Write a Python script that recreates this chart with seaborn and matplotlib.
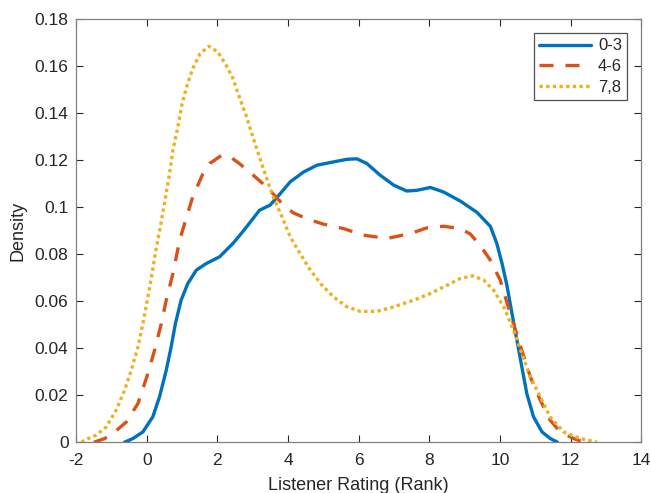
import matplotlib
matplotlib.use("Agg")
import matplotlib.pyplot as plt
import seaborn as sns

# density curves
x_03 = [-0.63, -0.39, -0.11, 0.17, 0.36, 0.55, 0.69, 0.81, 0.97, 1.16, 1.40, 1.68, 2.06,
        2.44, 2.75, 3.19, 3.49, 3.78, 4.06, 4.44, 4.82, 5.29, 5.67, 5.95, 6.23, 6.61, 6.99,
        7.36, 7.65, 8.03, 8.40, 8.88, 9.35, 9.73, 9.91, 10.06, 10.20, 10.34, 10.48, 10.62,
        10.76, 10.95, 11.19, 11.42, 11.63]
y_03 = [0.0, 0.0016, 0.0044, 0.0108, 0.0193, 0.0306, 0.0406, 0.0505, 0.0604, 0.0675, 0.0732,
        0.076, 0.0789, 0.0846, 0.0902, 0.0987, 0.1009, 0.1058, 0.1108, 0.115, 0.1179, 0.1193,
        0.1204, 0.1206, 0.1186, 0.1136, 0.1094, 0.1069, 0.1072, 0.1084, 0.1065, 0.1026, 0.0978,
        0.0918, 0.0846, 0.076, 0.0665, 0.0548, 0.0434, 0.032, 0.0207, 0.0108, 0.0044, 0.0016,
        0.0]

x_46 = [-1.5, -1.2, -0.96, -0.58, -0.25, 0.0, 0.22, 0.41, 0.55, 0.74, 0.93, 1.07, 1.30, 1.59,
        1.78, 2.11, 2.34, 2.62, 2.91, 3.29, 3.53, 3.87, 4.15, 4.58, 5.0, 5.57, 6.14, 6.8, 7.46,
        7.93, 8.40, 8.88, 9.16, 9.44, 9.73, 10.01, 10.15, 10.38, 10.62, 10.86, 11.14, 11.42,
        11.71, 12.08, 12.37]
y_46 = [0.0, 0.0015, 0.0037, 0.0086, 0.0165, 0.0278, 0.0391, 0.0505, 0.0604, 0.0718, 0.086,
        0.093, 0.1044, 0.1143, 0.1186, 0.122, 0.1217, 0.1186, 0.115, 0.110, 0.1065, 0.1009,
        0.0976, 0.0948, 0.0928, 0.0909, 0.0881, 0.0867, 0.0888, 0.0912, 0.0919, 0.0909, 0.0886,
        0.0838, 0.0774, 0.0689, 0.0618, 0.0505, 0.0391, 0.0278, 0.0179, 0.0094, 0.0044, 0.0016,
        0.0]

x_78 = [-1.85, -1.76, -1.43, -1.15, -0.87, -0.63, -0.44, -0.25, -0.11, 0.03, 0.15, 0.24, 0.40,
        0.50, 0.63, 0.74, 0.88, 1.0, 1.14, 1.30, 1.51, 1.76, 2.01, 2.25, 2.44, 2.62, 2.81, 3.0,
        3.19, 3.38, 3.59, 3.83, 4.06, 4.34, 4.63, 4.96, 5.29, 5.67, 6.04, 6.52, 6.99, 7.55, 8.03,
        8.50, 8.88, 9.23, 9.54, 9.82, 10.12, 10.38, 10.62, 10.86, 11.14, 11.42, 11.80, 12.27,
        12.75]
y_78 = [0.0, 0.0009, 0.003, 0.0065, 0.0136, 0.0221, 0.0306, 0.0406, 0.0505, 0.0618, 0.0718,
        0.0803, 0.093, 0.1016, 0.1129, 0.1243, 0.1342, 0.1441, 0.1519, 0.159, 0.1654, 0.1685,
        0.1661, 0.1604, 0.1548, 0.1469, 0.1391, 0.130, 0.1214, 0.1129, 0.104, 0.0959, 0.0874,
        0.0803, 0.0732, 0.0668, 0.0618, 0.0576, 0.0557, 0.0557, 0.0576, 0.0604, 0.0633, 0.0668,
        0.0697, 0.0708, 0.069, 0.0647, 0.0572, 0.0477, 0.0377, 0.0278, 0.0193, 0.0108, 0.0044,
        0.0016, 0.0]

sns.set_style("white")
plt.rcParams['font.family'] = ['Liberation Sans', 'DejaVu Sans']
plt.rcParams['axes.unicode_minus'] = False

fig = plt.figure(figsize=(6.51, 4.93), dpi=100)
ax = fig.add_axes([0.117, 0.103, 0.868, 0.858])

lw = 2.4
sns.lineplot(x=x_03, y=y_03, ax=ax, color="#0072BD", linewidth=lw, label="0-3",
             linestyle="-", sort=False)
sns.lineplot(x=x_46, y=y_46, ax=ax, color="#D95319", linewidth=lw, label="4-6",
             linestyle=(0, (4.2, 3.6)), sort=False)
sns.lineplot(x=x_78, y=y_78, ax=ax, color="#EDB120", linewidth=lw, label="7,8",
             linestyle=(0, (1, 1)), sort=False)

ax.set_xlim(-2, 14)
ax.set_ylim(0, 0.18)
ax.set_xticks(range(-2, 15, 2))
ax.set_yticks([0, 0.02, 0.04, 0.06, 0.08, 0.1, 0.12, 0.14, 0.16, 0.18])
ax.set_yticklabels(["0", "0.02", "0.04", "0.06", "0.08", "0.1", "0.12", "0.14", "0.16", "0.18"])
ax.set_xlabel("Listener Rating (Rank)", fontsize=13, color="#262626", labelpad=6)
ax.set_ylabel("Density", fontsize=13, color="#262626", labelpad=6)
ax.tick_params(direction="in", length=5, width=0.8, colors="#262626", labelsize=12.5,
               top=True, right=True, bottom=True, left=True, labelcolor="#262626")
ax.tick_params(axis="x", pad=8)
ax.tick_params(axis="y", pad=5.5)
for s in ax.spines.values():
    s.set_color("#808080")
    s.set_linewidth(0.9)

leg = ax.legend(loc="upper right", fontsize=12, handlelength=3.1, handletextpad=0.45,
                frameon=True, fancybox=False, borderaxespad=0.85, labelspacing=0.35,
                borderpad=0.3)
leg.get_frame().set_edgecolor("#262626")
leg.get_frame().set_linewidth(0.9)

fig.savefig("out.png", dpi=100)
